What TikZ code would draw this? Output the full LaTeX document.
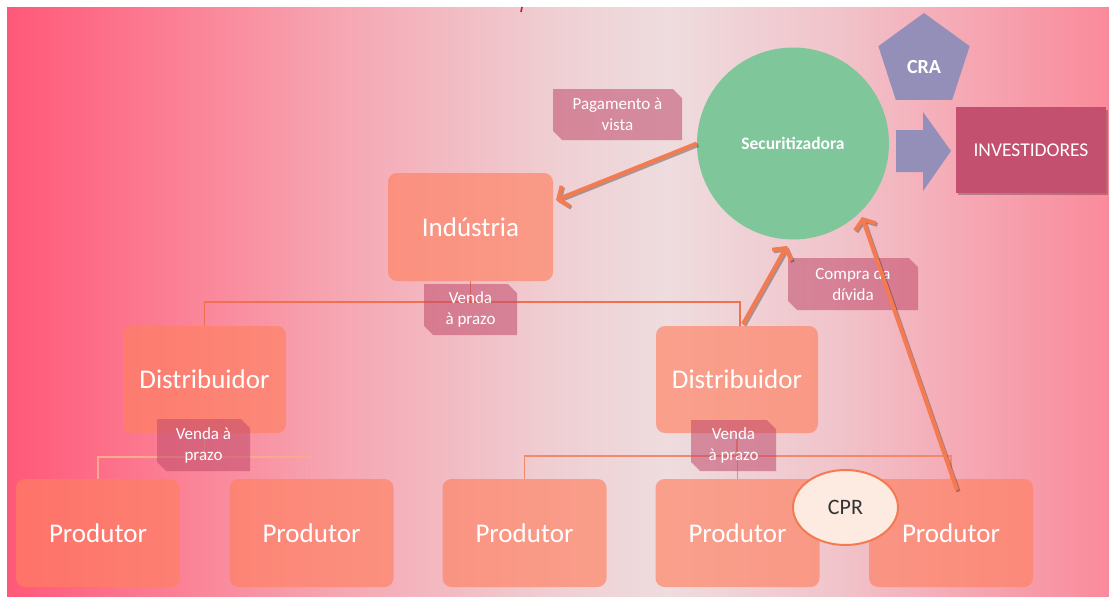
\documentclass[tikz,border=0pt]{standalone}
\usepackage{fontspec}
\setmainfont{Carlito}
\usetikzlibrary{shapes.geometric,shapes.misc,arrows.meta,calc}
\definecolor{boxC}{HTML}{FF8060}
\definecolor{labC}{HTML}{C04A6A}
\definecolor{treeA}{HTML}{F2704F}
\definecolor{treeB}{HTML}{FAAA8C}
\definecolor{treeC}{HTML}{F28A6A}
\definecolor{arrC}{HTML}{F47A50}
\definecolor{secC}{HTML}{7FC69A}
\definecolor{purC}{HTML}{948FB9}
\definecolor{invC}{HTML}{C4506F}
\definecolor{cprF}{HTML}{FDEAE0}
\definecolor{markC}{HTML}{C8183C}
\definecolor{bgA}{RGB}{255,88,120}
\definecolor{bgB}{RGB}{251,127,148}
\definecolor{bgC}{RGB}{246,166,178}
\definecolor{bgD}{RGB}{239,207,211}
\definecolor{bgE}{RGB}{238,220,222}
\definecolor{bgF}{RGB}{241,196,203}
\definecolor{bgG}{RGB}{250,138,155}
\pgfdeclarehorizontalshading{bgshade}{100bp}{%
  color(0bp)=(bgA);
  color(25bp)=(bgA);
  color(32.5bp)=(bgB);
  color(40bp)=(bgC);
  color(50bp)=(bgD);
  color(55bp)=(bgE);
  color(62.5bp)=(bgF);
  color(75bp)=(bgG);
  color(100bp)=(bgG)}
\tikzset{
  box/.style={rectangle, rounded corners=9pt, fill=boxC, fill opacity=0.65, text opacity=1,
    text=white, font=\fontsize{27}{30}\selectfont, inner sep=0pt},
  lab/.style={chamfered rectangle, chamfered rectangle corners={north east,south west},
    chamfered rectangle xsep=6pt, fill=labC, fill opacity=0.55, text opacity=1, text=white,
    align=center, font=\fontsize{17}{21}\selectfont, inner sep=0pt},
  treeline/.style={line width=1.8pt},
  conn/.style={draw=arrC, line width=4pt, -{Straight Barb[length=8pt,width=22pt]}},
  connshadow/.style={draw=black, opacity=0.3, line width=4pt, -{Straight Barb[length=8pt,width=22pt]},
    transform canvas={xshift=1.5pt,yshift=-1.5pt}},
}
\begin{document}
\begin{tikzpicture}[x=1pt,y=-1pt]
\useasboundingbox (0,0) rectangle (1109,597);
\fill[white] (0,0) rectangle (1109,597);
\shade[shading=bgshade] (7,7) rectangle (1109,597);
\draw[draw=markC, line width=1.6pt] (522,7) -- (521,12);

% nodes
\node[box, minimum width=165pt, minimum height=108pt] (ind) at (470.5,227) {Indústria};
\node[box, minimum width=163pt, minimum height=107pt] (dl) at (204.5,379.5) {Distribuidor};
\node[box, minimum width=162pt, minimum height=107pt] (dr) at (737,379.5) {Distribuidor};
\foreach \n/\x in {p1/98,p2/311.5,p3/524.5,p4/737.5,p5/951}
  \node[box, minimum width=164pt, minimum height=108pt] (\n) at (\x,533) {Produtor};

% tree connectors
\coordinate (j1) at (0,302);
\coordinate (j2) at (0,457);
\coordinate (j3) at (0,456);
\begin{scope}[treeline, draw=treeA]
  \draw (ind.south) -- (ind.south |- j1);
  \draw (dl.north) |- ($(dr.north |- j1)+(3,0)$) -- ($(dr.north)+(3,0)$);
\end{scope}
\begin{scope}[line width=1.6pt, draw=treeB]
  \draw (dl.south) -- (dl.south |- j2);
  \draw (p1.north) |- (p2.north |- j2) -- (p2.north);
\end{scope}
\begin{scope}[line width=1.6pt, draw=treeC]
  \draw (dr.south) -- (dr.south |- j3);
  \draw (p3.north) |- (p5.north |- j3) -- (p5.north);
  \draw (p4.north) -- (p4.north |- j3);
\end{scope}

% labels
\node[lab, minimum width=129pt, minimum height=51pt] (lpag) at (617.5,114.5) {Pagamento à\\vista};
\node[lab, minimum width=93pt, minimum height=51pt] (lv1) at (470.5,309.5) {Venda\\à prazo};
\node[lab, minimum width=130pt, minimum height=52pt] (lcomp) at (853,284) {Compra da\\dívida};
\node[lab, minimum width=93pt, minimum height=52pt] (lv2) at (203.5,445) {Venda à\\prazo};
\node[lab, minimum width=85pt, minimum height=51pt] (lv3) at (733.5,445.5) {Venda\\à prazo};

% securitizadora side
\node[circle, fill=secC, minimum size=192pt, inner sep=0pt, text=white,
  font=\bfseries\fontsize{17.5}{20}\selectfont] (sec) at (793,143.5) {Securitizadora};
\node[regular polygon, regular polygon sides=5, fill=purC, minimum size=96pt, inner sep=0pt] (cra) at (924,61) {};
\node[text=white, font=\bfseries\fontsize{20}{22}\selectfont, inner sep=0pt] (cratext) at ($(cra.center)+(0,6)$) {CRA};
\fill[purC] (896,130) -- (923,130) -- (923,112) -- (951,151) -- (923,191) -- (923,172) -- (896,172) -- cycle;
\fill[black, opacity=0.25] (958,110) rectangle (1108,195);
\node[rectangle, fill=invC, minimum width=150pt, minimum height=86pt, inner sep=0pt, text=white,
  font=\fontsize{19.5}{22}\selectfont] (inv) at (1031,150) {INVESTIDORES};

% arrows
\coordinate (a1e) at (556,200);
\coordinate (a2s) at (743,324);
\coordinate (a2e) at (787,246);
\coordinate (a3s) at (957,490);
\coordinate (a3e) at (862,217);
\draw[connshadow] (sec.west) -- (a1e);
\draw[connshadow] (a2s) -- (a2e);
\draw[connshadow] (a3s) -- (a3e);
\draw[conn] (sec.west) -- (a1e);
\draw[conn] (a2s) -- (a2e);
\draw[conn] (a3s) -- (a3e);

% CPR
\node[ellipse, fill=cprF, draw=arrC, line width=2pt, minimum width=105pt, minimum height=75pt,
  inner sep=0pt, text=black!80, font=\fontsize{22}{24}\selectfont] (cpr) at (845.5,507.5) {CPR};
\end{tikzpicture}
\end{document}
